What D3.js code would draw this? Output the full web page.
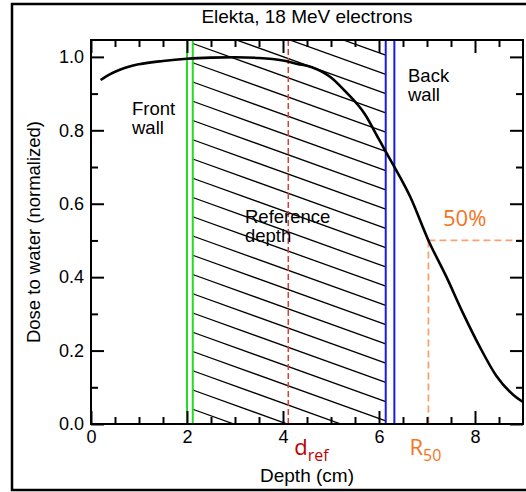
<!DOCTYPE html>
<html>
<head>
<meta charset="utf-8">
<script src="https://cdn.jsdelivr.net/npm/d3@7"></script>
<style>
  html, body { margin: 0; padding: 0; background: #fff; }
  svg { display: block; }
  text { font-family: "Liberation Sans", Arial, sans-serif; }
</style>
</head>
<body>
<svg id="chart" width="526" height="492"></svg>
<script>
// ---------------- data ----------------
const depth = [0.2, 0.4, 0.6, 0.8, 1.0, 1.5, 2.0, 2.5, 3.0, 3.5, 4.0, 4.3, 4.6, 5.0, 5.3, 5.7, 6.0, 6.3, 6.65, 7.03, 7.4, 7.75, 8.1, 8.45, 8.8, 9.0];
const dose  = [0.937, 0.953, 0.965, 0.974, 0.980, 0.989, 0.995, 0.998, 0.999, 0.997, 0.990, 0.981, 0.972, 0.944, 0.906, 0.845, 0.775, 0.705, 0.619, 0.500, 0.402, 0.302, 0.210, 0.130, 0.079, 0.060];
const frontWall = [2.0, 2.12];
const backWall = [6.14, 6.32];
const dRef = 4.11;
const r50 = 7.03;
const halfDose = 0.5;
const xMajorTicks = [0, 2, 4, 6, 8];
const xMinorTicks = [0.5, 1, 1.5, 2.5, 3, 3.5, 4.5, 5, 5.5, 6.5, 7, 7.5, 8.5];
const yMajorTicks = [0, 0.2, 0.4, 0.6, 0.8, 1.0];
const yMinorTicks = [0.1, 0.3, 0.5, 0.7, 0.9];
const title = "Elekta, 18 MeV electrons";
const xTitle = "Depth (cm)";
const yTitle = "Dose to water (normalized)";

// ---------------- layout ----------------
const svg = d3.select("#chart");
const L = 91, R = 523, T = 40, B = 424;
const x = d3.scaleLinear().domain([0, 9]).range([L, R]);
const y = d3.scaleLinear().domain([0, 1.046]).range([B, T]);

// outer frame
svg.append("rect").attr("x", 12).attr("y", 4).attr("width", 520).attr("height", 486)
  .attr("fill", "none").attr("stroke", "#000").attr("stroke-width", 2.5);

// clip for plot area
svg.append("clipPath").attr("id", "plotclip").append("rect")
  .attr("x", L).attr("y", T).attr("width", R - L).attr("height", B - T);

// hatched region between walls
svg.append("clipPath").attr("id", "hatchclip").append("rect")
  .attr("x", x(frontWall[1])).attr("y", T)
  .attr("width", x(backWall[0]) - x(frontWall[1])).attr("height", B - T);
const hatch = svg.append("g").attr("clip-path", "url(#hatchclip)");
const hx0 = x(frontWall[1]), hx1 = x(backWall[0]);
const slope = 0.36, spacing = 19.25, phase = 43.5;
const ks = d3.range(-12, 22);
hatch.selectAll("line").data(ks).join("line")
  .attr("x1", hx0).attr("y1", k => phase + spacing * k)
  .attr("x2", hx1).attr("y2", k => phase + spacing * k + slope * (hx1 - hx0))
  .attr("stroke", "#000").attr("stroke-width", 1.3);

const plot = svg.append("g").attr("clip-path", "url(#plotclip)");

// reference depth dashed line
plot.append("line").attr("x1", x(dRef)).attr("x2", x(dRef)).attr("y1", T).attr("y2", B)
  .attr("stroke", "#e03a3a").attr("stroke-width", 1.5).attr("stroke-dasharray", "6,3");

// walls
plot.selectAll("line.front").data(frontWall).join("line").attr("class", "front")
  .attr("x1", d => x(d)).attr("x2", d => x(d)).attr("y1", T).attr("y2", B)
  .attr("stroke", "#22dd22").attr("stroke-width", 2);
plot.selectAll("line.back").data(backWall).join("line").attr("class", "back")
  .attr("x1", d => x(d)).attr("x2", d => x(d)).attr("y1", T).attr("y2", B)
  .attr("stroke", "#1a1ae6").attr("stroke-width", 2);

// R50 dashed lines
plot.append("line").attr("x1", x(r50)).attr("x2", x(r50)).attr("y1", y(halfDose)).attr("y2", B)
  .attr("stroke", "#f7a272").attr("stroke-width", 1.8).attr("stroke-dasharray", "7,4");
plot.append("line").attr("x1", x(r50)).attr("x2", R).attr("y1", y(halfDose)).attr("y2", y(halfDose))
  .attr("stroke", "#f7a272").attr("stroke-width", 1.8).attr("stroke-dasharray", "7,4");

// depth dose curve
const pts = depth.map((d, i) => [d, dose[i]]);
plot.append("path").datum(pts)
  .attr("d", d3.line().x(d => x(d[0])).y(d => y(d[1])).curve(d3.curveMonotoneX))
  .attr("fill", "none").attr("stroke", "#000").attr("stroke-width", 2.6);

// ---------------- axes ----------------
function styleAxis(g) {
  g.select(".domain").remove();
  g.selectAll(".tick line").attr("stroke", "#000").attr("stroke-width", 2);
  g.selectAll(".tick text").attr("fill", "#000")
    .style("font-family", '"Liberation Sans", Arial, sans-serif');
}
svg.append("g").attr("transform", `translate(0,${B})`)
  .call(d3.axisBottom(x).tickValues(xMajorTicks).tickSize(-13).tickPadding(6).tickFormat(d3.format("d")))
  .call(styleAxis).selectAll("text").style("font-size", "18px");
svg.append("g").attr("transform", `translate(0,${B})`)
  .call(d3.axisBottom(x).tickValues(xMinorTicks).tickSize(-7).tickFormat(""))
  .call(styleAxis);
svg.append("g").attr("transform", `translate(0,${T})`)
  .call(d3.axisTop(x).tickValues(xMajorTicks).tickSize(-13).tickFormat(""))
  .call(styleAxis);
svg.append("g").attr("transform", `translate(0,${T})`)
  .call(d3.axisTop(x).tickValues(xMinorTicks).tickSize(-7).tickFormat(""))
  .call(styleAxis);
svg.append("g").attr("transform", `translate(${L},0)`)
  .call(d3.axisLeft(y).tickValues(yMajorTicks).tickSize(-13).tickPadding(7).tickFormat(d3.format(".1f")))
  .call(styleAxis).selectAll("text").style("font-size", "18px");
svg.append("g").attr("transform", `translate(${L},0)`)
  .call(d3.axisLeft(y).tickValues(yMinorTicks).tickSize(-7).tickFormat(""))
  .call(styleAxis);
svg.append("g").attr("transform", `translate(${R},0)`)
  .call(d3.axisRight(y).tickValues(yMajorTicks).tickSize(-13).tickFormat(""))
  .call(styleAxis);
svg.append("g").attr("transform", `translate(${R},0)`)
  .call(d3.axisRight(y).tickValues(yMinorTicks).tickSize(-7).tickFormat(""))
  .call(styleAxis);

// plot frame
svg.append("rect").attr("x", L).attr("y", T).attr("width", R - L).attr("height", B - T)
  .attr("fill", "none").attr("stroke", "#000").attr("stroke-width", 2);

// ---------------- text ----------------
svg.append("text").attr("x", (L + R) / 2).attr("y", 23).attr("text-anchor", "middle")
  .style("font-size", "19px").text(title);
svg.append("text").attr("x", (L + R) / 2).attr("y", 482).attr("text-anchor", "middle")
  .style("font-size", "19px").text(xTitle);
svg.append("text").attr("transform", `translate(40,${(T + B) / 2}) rotate(-90)`)
  .attr("text-anchor", "middle").style("font-size", "18.5px").text(yTitle);

function twoLine(xp, yp, lines) {
  const t = svg.append("text").attr("x", xp).attr("y", yp).style("font-size", "18.5px");
  lines.forEach((s, i) => t.append("tspan").attr("x", xp).attr("dy", i ? 19 : 0).text(s));
}
twoLine(132, 115, ["Front", "wall"]);
twoLine(408, 82, ["Back", "wall"]);
twoLine(245, 223, ["Reference", "depth"]);

const annFont = '"Open Sans", "Noto Sans", sans-serif';
svg.append("text").attr("x", 443).attr("y", 226).style("font-family", annFont)
  .style("font-size", "22px").attr("fill", "#f47321").text("50%");

const dr = svg.append("text").attr("x", x(dRef) + 6).attr("y", 455).style("font-family", annFont)
  .style("font-size", "22px").attr("fill", "#c00000");
dr.append("tspan").text("d");
dr.append("tspan").attr("dy", 6).style("font-size", "16px").text("ref");

const rr = svg.append("text").attr("x", x(r50) - 19).attr("y", 455).style("font-family", annFont)
  .style("font-size", "22px").attr("fill", "#f47321");
rr.append("tspan").text("R");
rr.append("tspan").attr("dy", 6).style("font-size", "16px").text("50");
</script>
</body>
</html>
